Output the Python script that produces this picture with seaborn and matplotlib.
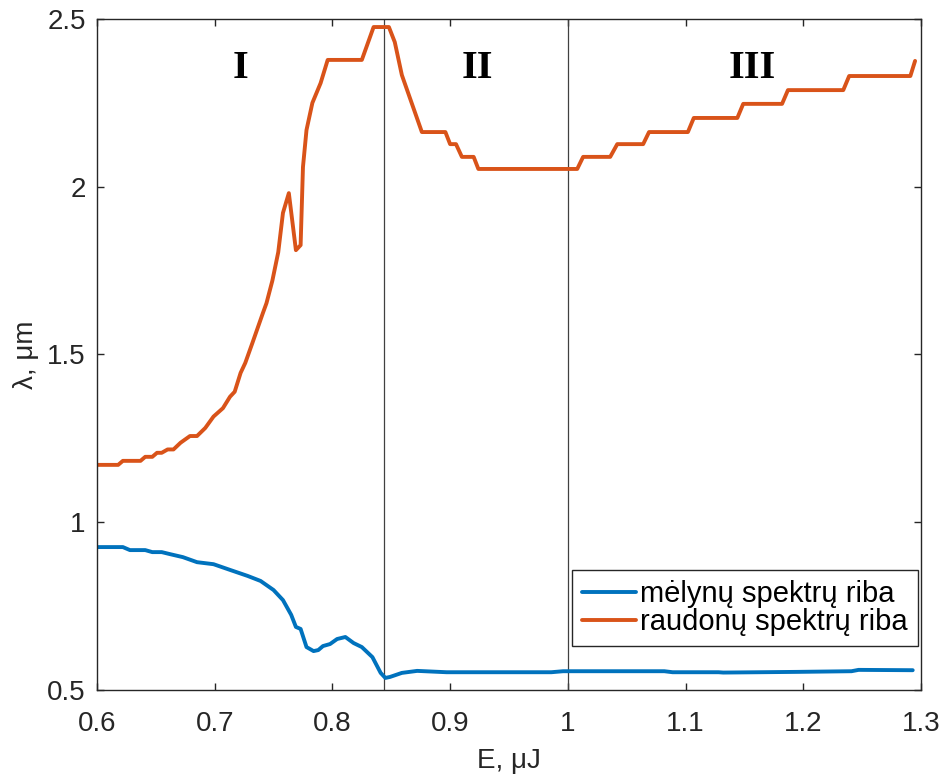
import numpy as np
import pandas as pd
import matplotlib
matplotlib.use("Agg")
import matplotlib.pyplot as plt
import seaborn as sns
from matplotlib.ticker import FuncFormatter

# ---- data ----
red_x = [0.600, 0.618, 0.622, 0.637, 0.641, 0.647, 0.651, 0.655, 0.660, 0.665,
         0.671, 0.679, 0.685, 0.692, 0.699, 0.707, 0.713, 0.717, 0.722, 0.726,
         0.732, 0.741, 0.744, 0.749, 0.754, 0.758, 0.763, 0.769, 0.773, 0.775,
         0.778, 0.783, 0.790, 0.796, 0.825, 0.835, 0.848, 0.853, 0.859, 0.876,
         0.896, 0.900, 0.905, 0.910, 0.920, 0.924, 1.008, 1.013, 1.036, 1.042,
         1.064, 1.069, 1.102, 1.107, 1.144, 1.149, 1.182, 1.187, 1.234, 1.239,
         1.291, 1.295]
red_y = [1.171, 1.171, 1.183, 1.183, 1.195, 1.195, 1.207, 1.207, 1.217, 1.217,
         1.237, 1.257, 1.257, 1.281, 1.315, 1.340, 1.374, 1.389, 1.445, 1.475,
         1.534, 1.624, 1.653, 1.720, 1.805, 1.922, 1.981, 1.811, 1.826, 2.059,
         2.169, 2.250, 2.309, 2.378, 2.378, 2.476, 2.476, 2.431, 2.333, 2.163,
         2.163, 2.127, 2.127, 2.089, 2.089, 2.053, 2.053, 2.089, 2.089, 2.127,
         2.127, 2.163, 2.163, 2.205, 2.205, 2.247, 2.247, 2.288, 2.288, 2.330,
         2.330, 2.375]

blue_x = [0.600, 0.622, 0.628, 0.641, 0.647, 0.655, 0.662, 0.673, 0.685, 0.699,
          0.713, 0.728, 0.739, 0.750, 0.758, 0.765, 0.769, 0.773, 0.778, 0.784,
          0.788, 0.792, 0.798, 0.804, 0.811, 0.818, 0.825, 0.834, 0.841, 0.845,
          0.849, 0.859, 0.872, 0.897, 0.986, 0.996, 1.082, 1.089, 1.128, 1.132,
          1.194, 1.241, 1.247, 1.293]
blue_y = [0.926, 0.926, 0.917, 0.917, 0.911, 0.911, 0.905, 0.896, 0.881, 0.875,
          0.858, 0.840, 0.825, 0.798, 0.768, 0.724, 0.688, 0.682, 0.628, 0.616,
          0.619, 0.631, 0.637, 0.652, 0.658, 0.640, 0.628, 0.598, 0.551, 0.536,
          0.539, 0.551, 0.557, 0.553, 0.553, 0.556, 0.556, 0.553, 0.553, 0.552,
          0.554, 0.556, 0.560, 0.559]

series_names = ["mėlynų spektrų riba", "raudonų spektrų riba"]
series_colors = ["#0072BD", "#D95319"]
region_bounds = [0.844, 1.0]
region_labels = ["I", "II", "III"]
region_label_x = [0.722, 0.923, 1.157]
region_label_y = 2.351
x_ticks = [0.6, 0.7, 0.8, 0.9, 1.0, 1.1, 1.2, 1.3]
y_ticks = [0.5, 1.0, 1.5, 2.0, 2.5]

df = pd.concat([
    pd.DataFrame({"E": blue_x, "lam": blue_y, "series": series_names[0]}),
    pd.DataFrame({"E": red_x, "lam": red_y, "series": series_names[1]}),
], ignore_index=True)

sns.set_theme(style="white")
plt.rcParams['font.family'] = ['Liberation Sans', 'DejaVu Sans']
dark = "#262626"

fig = plt.figure(figsize=(9.47, 7.78), dpi=100)
ax = fig.add_axes([0.1024, 0.1131, 0.8701, 0.8625])

sns.lineplot(data=df, x="E", y="lam", hue="series", hue_order=series_names,
             palette=series_colors, sort=False, estimator=None, linewidth=2.8,
             ax=ax)

for xb in region_bounds:
    ax.axvline(xb, color="#404040", linewidth=0.9, zorder=1)

for lab, lx in zip(region_labels, region_label_x):
    ax.text(lx, region_label_y, lab, ha="center", va="center",
            fontsize=29, fontweight="bold", family="Liberation Serif", color="black")

ax.set_xlim(0.6, 1.3)
ax.set_ylim(0.5, 2.5)
ax.set_xticks(x_ticks)
ax.set_yticks(y_ticks)
fmt = FuncFormatter(lambda v, p: f"{v:g}")
ax.xaxis.set_major_formatter(fmt)
ax.yaxis.set_major_formatter(fmt)

ax.tick_params(axis="both", which="major", direction="in", length=5, width=1,
               color=dark, labelcolor=dark, labelsize=20,
               top=True, right=True, bottom=True, left=True)
ax.tick_params(axis="x", pad=15)
ax.tick_params(axis="y", pad=8)

for s in ax.spines.values():
    s.set_visible(True)
    s.set_color(dark)
    s.set_linewidth(1.0)

ax.set_xlabel("E, μJ", fontsize=20, color=dark, labelpad=8)
ax.set_ylabel("λ, μm", fontsize=20, color=dark, labelpad=6)

leg = ax.legend(loc="lower right", bbox_to_anchor=(0.9964, 0.065), borderaxespad=0,
                fontsize=21, frameon=True, fancybox=False, framealpha=1,
                edgecolor=dark, labelspacing=0.0, borderpad=0.35,
                handlelength=1.85, handletextpad=0.15, title=None)
leg.get_frame().set_linewidth(1.0)
for t in leg.get_texts():
    t.set_color("black")

fig.savefig("out.png", dpi=100)
